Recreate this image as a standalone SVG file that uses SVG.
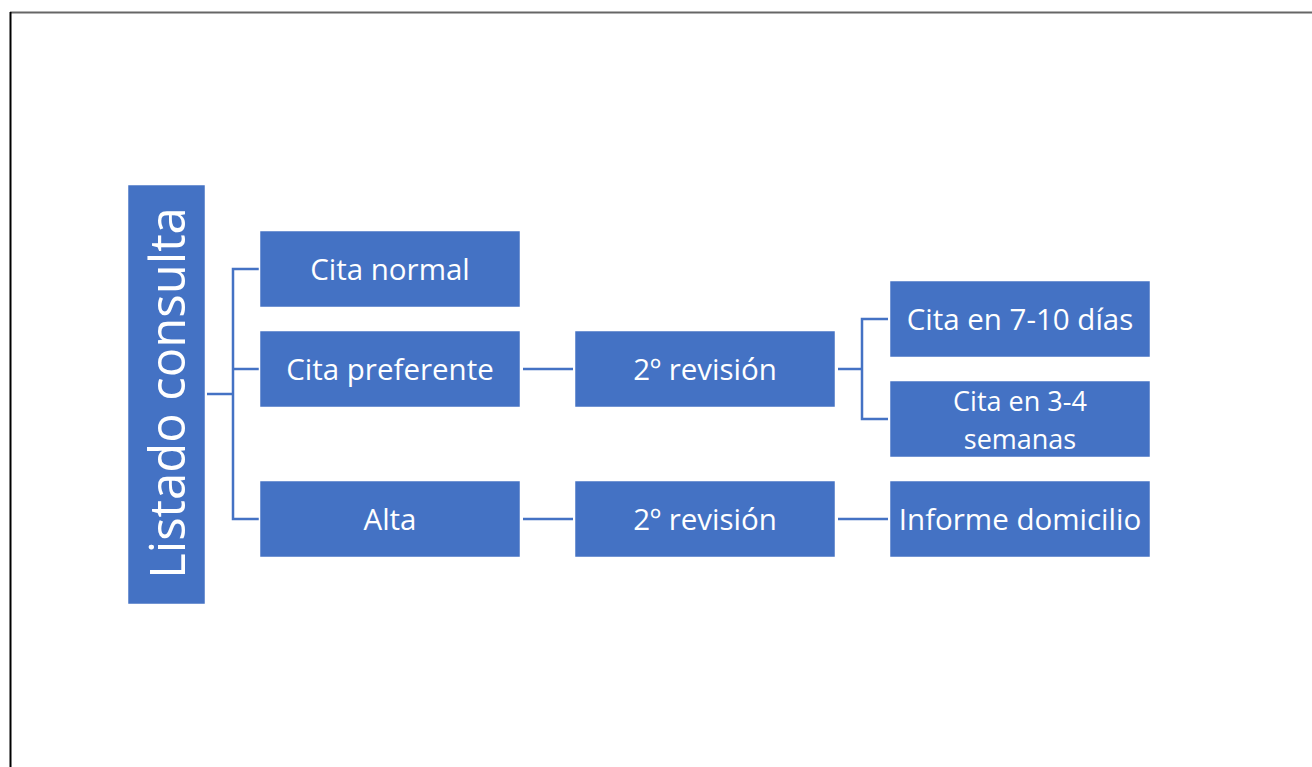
<svg xmlns="http://www.w3.org/2000/svg" width="1312" height="767" viewBox="0 0 1312 767">
<style>
.box{fill:#4472C4;stroke:#ffffff;stroke-width:1.5}
.t{fill:#ffffff;font-family:"Open Sans","Liberation Sans",Arial,sans-serif;font-size:29.5px;text-anchor:middle;dominant-baseline:central}
.c{fill:none;stroke:#4472C4;stroke-width:2.5}
</style>
<rect width="1312" height="767" fill="#ffffff"/>
<line x1="10" y1="12.5" x2="1312" y2="12.5" stroke="#666666" stroke-width="2"/>
<line x1="10.5" y1="12" x2="10.5" y2="767" stroke="#000000" stroke-width="2"/>
<g id="connectors">
<polyline class="c" points="207,394 233,394"/>
<polyline class="c" points="260,269 233,269 233,519 260,519"/>
<polyline class="c" points="233,369 260,369"/>
<polyline class="c" points="523,369 573,369"/>
<polyline class="c" points="838,369 862,369"/>
<polyline class="c" points="888,319 862,319 862,419 888,419"/>
<polyline class="c" points="523,519 573,519"/>
<polyline class="c" points="838,519 888,519"/>
</g>
<g id="listado">
<rect class="box" x="127.5" y="184.5" width="78" height="420"/>
<text class="t" transform="translate(166,393) rotate(-90)" style="font-size:49px">Listado consulta</text>
</g>
<g id="cita-normal">
<rect class="box" x="259.5" y="230.5" width="261" height="77"/>
<text class="t" x="390" y="268">Cita normal</text>
</g>
<g id="cita-preferente">
<rect class="box" x="259.5" y="330.5" width="261" height="77"/>
<text class="t" x="390" y="368">Cita preferente</text>
</g>
<g id="alta">
<rect class="box" x="259.5" y="480.5" width="261" height="77"/>
<text class="t" x="390" y="518">Alta</text>
</g>
<g id="revision-1">
<rect class="box" x="574.5" y="330.5" width="261" height="77"/>
<text class="t" x="705" y="368">2º revisión</text>
</g>
<g id="revision-2">
<rect class="box" x="574.5" y="480.5" width="261" height="77"/>
<text class="t" x="705" y="518">2º revisión</text>
</g>
<g id="cita-7-10">
<rect class="box" x="889.5" y="280.5" width="261" height="77"/>
<text class="t" x="1020" y="318">Cita en 7-10 días</text>
</g>
<g id="cita-3-4">
<rect class="box" x="889.5" y="380.5" width="261" height="77"/>
<text class="t" x="1020" y="400" style="font-size:27px">Cita en 3-4</text>
<text class="t" x="1020" y="438" style="font-size:27px">semanas</text>
</g>
<g id="informe">
<rect class="box" x="889.5" y="480.5" width="261" height="77"/>
<text class="t" x="1020" y="518">Informe domicilio</text>
</g>
</svg>
